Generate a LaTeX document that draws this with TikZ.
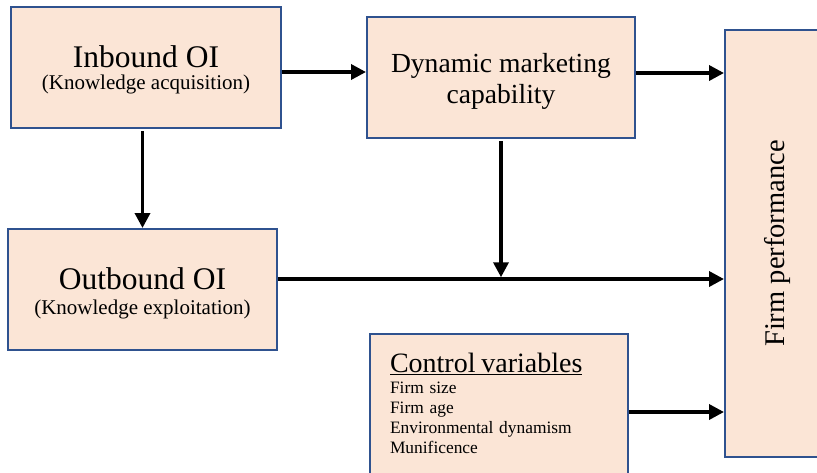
\documentclass[tikz,border=0pt]{standalone}
\usepackage{fontspec}
\setmainfont{Liberation Serif}
\usepackage{tikz}
\usetikzlibrary{arrows.meta,calc,positioning}
\definecolor{boxfill}{RGB}{251,229,214}
\definecolor{boxline}{RGB}{47,82,143}
\tikzset{%
	block/.style = {draw=boxline, fill=boxfill, line width=2pt, rectangle, inner sep=0pt, align=center},
	arrow/.style = {line width=3.5pt, -{Triangle[length=15pt,width=15pt]}},
}
\begin{document}
\begin{tikzpicture}[x=1pt,y=-1pt]
	\useasboundingbox (0,0) rectangle (817,472);
	\clip (0,0) rectangle (817,472);
	\node[block, minimum width=270pt, minimum height=121pt, font=\fontsize{21}{22}\selectfont] (inbound) at (146,67.5) {\rule{0pt}{27pt}{\fontsize{31.5}{22}\selectfont Inbound OI}\\(Knowledge acquisition)};
	\node[block, minimum width=268pt, minimum height=121pt, font=\fontsize{27.6}{31}\selectfont] (dmc) at (501,77.5) {\rule{0pt}{26pt}Dynamic marketing\\capability};
	\node[block, minimum width=269pt, minimum height=121pt, font=\fontsize{21}{25}\selectfont] (outbound) at (142.5,289.5) {\rule{0pt}{30.5pt}{\fontsize{31.5}{25}\selectfont Outbound OI}\\(Knowledge exploitation)};
	\node[block, minimum width=258pt, minimum height=156pt, text width=218pt, align=left, font=\fontsize{17.4}{20}\selectfont] (control) at (499,412) {{\fontsize{28}{20}\selectfont\underline{Control variables}}\\[1pt]Firm size\\Firm age\\Environmental dynamism\\Munificence\rule[-18pt]{0pt}{0pt}};
	\node[block, minimum width=104pt, minimum height=427pt, font=\fontsize{28.5}{30}\selectfont] (firm) at (777,243.5) {\rotatebox{90}{Firm performance}};
	\coordinate (mid) at (dmc.south |- 0,279);
	\draw[arrow] (inbound.east |- 0,72) -- (dmc.west |- 0,72);
	\draw[arrow] (dmc.east |- 0,73) -- (firm.west |- 0,73);
	\draw[arrow, shorten <=2pt] (inbound.south -| outbound.north) -- (outbound.north);
	\draw[arrow] (outbound.east |- mid) -- (firm.west |- mid);
	\draw[arrow, shorten <=2pt, shorten >=1.75pt] (dmc.south) -- (mid);
	\draw[arrow] (control.east) -- (firm.west |- control.east);
\end{tikzpicture}
\end{document}
